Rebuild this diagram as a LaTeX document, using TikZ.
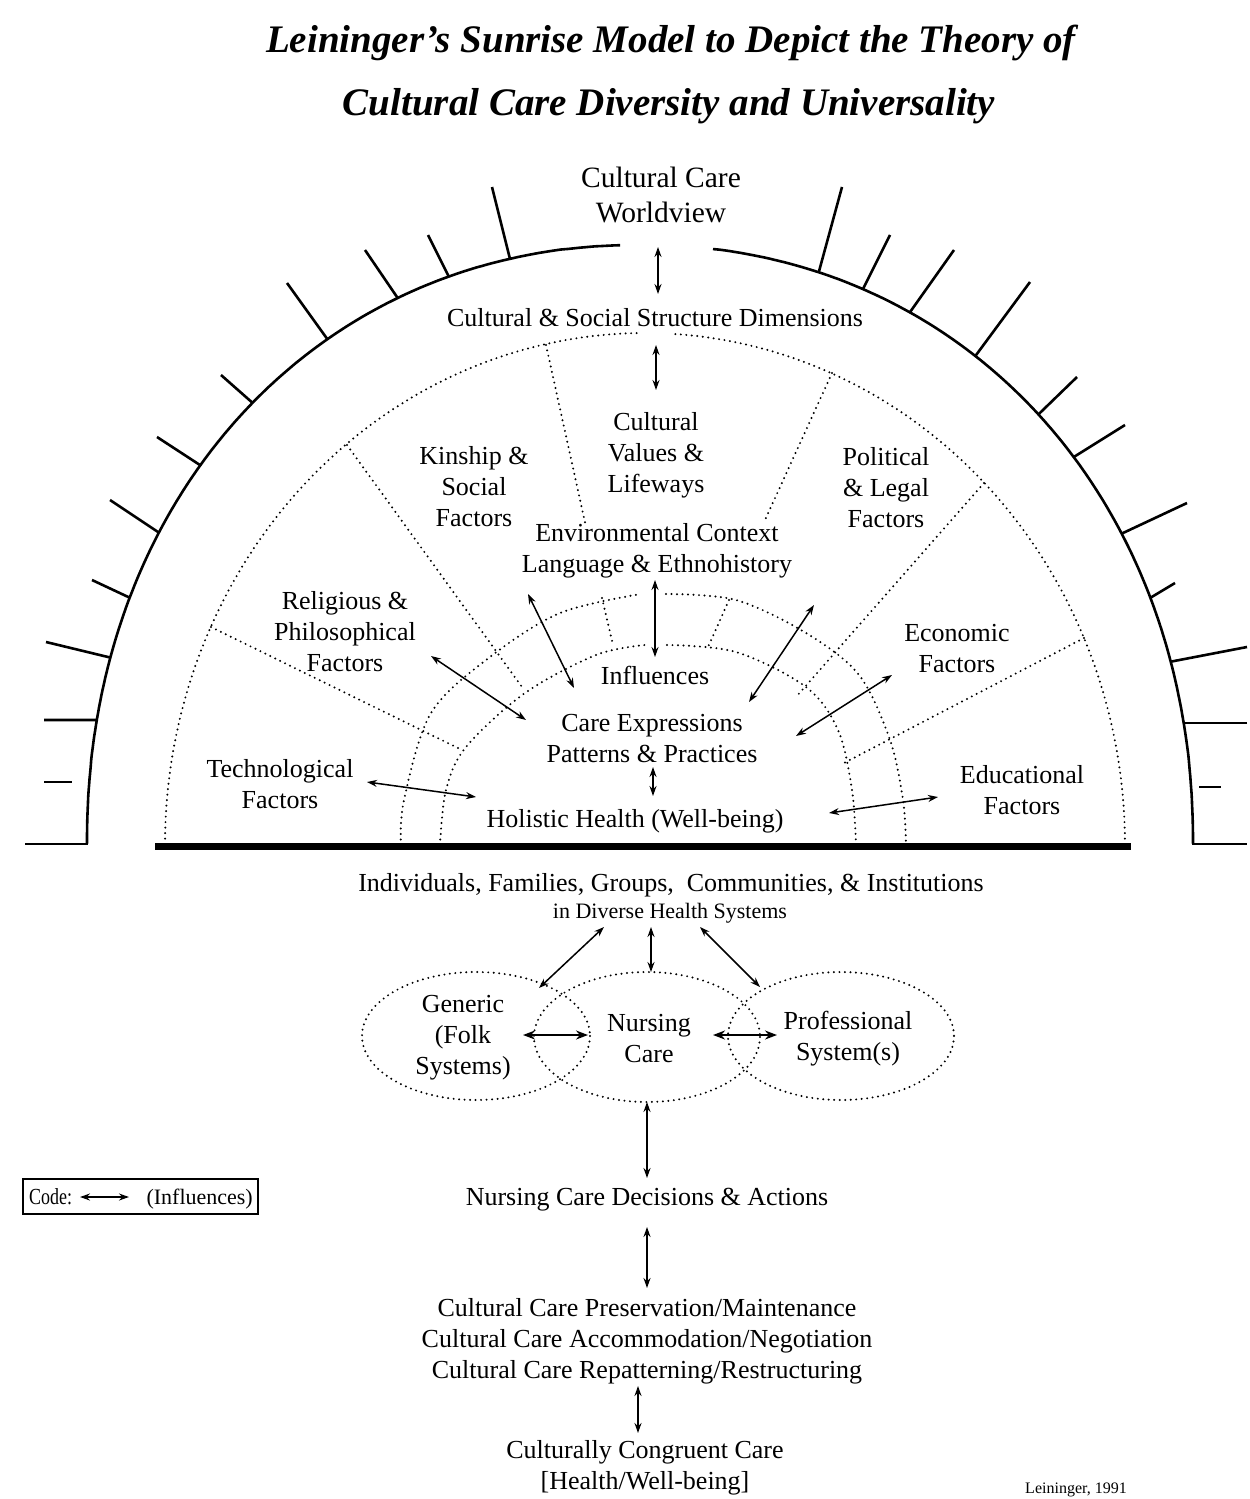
\documentclass[tikz,border=0pt]{standalone}
\usepackage{fontspec}
\setmainfont{Liberation Serif}
\newfontfamily\condserif[FakeStretch=0.78]{Liberation Serif}
\usetikzlibrary{arrows.meta,calc,intersections}

\tikzset{
  txt/.style={font=\fontsize{26}{31}\selectfont, align=center, inner sep=0pt},
  bigtxt/.style={font=\fontsize{29.5}{35}\selectfont, align=center, inner sep=0pt},
  ttl/.style={font=\fontsize{39}{46}\selectfont\bfseries\itshape, inner sep=0pt},
  smalltxt/.style={font=\fontsize{22}{26}\selectfont, inner sep=0pt},
  citetxt/.style={font=\fontsize{16}{19}\selectfont, inner sep=0pt},
  infl/.style={{Stealth[length=10pt,width=7pt]}-{Stealth[length=10pt,width=7pt]}, line width=1.5pt},
  inflbig/.style={{Stealth[length=12pt,width=9pt]}-{Stealth[length=12pt,width=9pt]}, line width=2pt},
  dots/.style={line width=2.2pt, line cap=round, dash pattern=on 0pt off 5.5pt},
  sunarc/.style={line width=2.6pt},
  sunray/.style={line width=2.6pt},
  baseline bar/.style={line width=7pt},
  codebox/.style={draw, line width=2pt, inner sep=0pt},
}

% ray from an outer point towards a guessed inner point, cut at the sun arc
\newcommand\rayto[4]{%
  \path[name path=#1] #2 -- ($#2!1.7!#3$);
  \draw[sunray, name intersections={of=#4 and #1, by=#1x}] #2 -- (#1x);}

\begin{document}
\begin{tikzpicture}[x=1pt,y=-1pt]
\useasboundingbox (0,0) rectangle (1250,1499);
\fill[white] (0,0) rectangle (1250,1499);

% ---------- title ----------
\node[ttl] (title1) at (671,43) {Leininger’s Sunrise Model to Depict the Theory of};
\node[ttl] (title2) at (669,106) {Cultural Care Diversity and Universality};

% ---------- outer sun arc (slightly squared ellipse) ----------
\draw[sunarc, name path=sunL] plot[domain=91.75:179.9, samples=160, variable=\t]
  ({640-553*pow(abs(cos(\t)),0.952)},{845-600*pow(abs(sin(\t)),0.952)});
\draw[sunarc, name path=sunR] plot[domain=0.1:83.15, samples=160, variable=\t]
  ({640+553*pow(abs(cos(\t)),0.952)},{845-600*pow(abs(sin(\t)),0.952)});

% rays, left
\rayto{la}{(492,187)}{(508,251)}{sunL}
\rayto{lb}{(428,235)}{(444,267)}{sunL}
\rayto{lc}{(365,250)}{(397,297)}{sunL}
\rayto{ld}{(287,283)}{(333,347)}{sunL}
\rayto{le}{(221,375)}{(255,405)}{sunL}
\rayto{lf}{(157,437)}{(203,467)}{sunL}
\rayto{lg}{(110,500)}{(155,530)}{sunL}
\rayto{lh}{(92,580)}{(124,595)}{sunL}
\rayto{li}{(46,642)}{(108,657)}{sunL}
\rayto{lj}{(44,720)}{(97,720)}{sunL}
\draw[sunray] (44,782) -- (72,782);
\draw[sunray] (25,844) -- (88,844);
% rays, right
\rayto{ra}{(842,187)}{(824,253)}{sunR}
\rayto{rb}{(890,235)}{(874,267)}{sunR}
\rayto{rc}{(954,250)}{(920,298)}{sunR}
\rayto{rd}{(1030,282)}{(982,347)}{sunR}
\rayto{re}{(1077,377)}{(1045,408)}{sunR}
\rayto{rf}{(1125,425)}{(1077,455)}{sunR}
\rayto{rg}{(1187,503)}{(1123,533)}{sunR}
\rayto{rh}{(1175,583)}{(1155,595)}{sunR}
\rayto{ri}{(1247,647)}{(1169,662)}{sunR}
\rayto{rj}{(1247,723)}{(1180,723)}{sunR}
\draw[sunray] (1199,787) -- (1221,787);
\draw[sunray] (1192,844) -- (1247,844);

% ---------- dotted arcs ----------
\draw[dots] plot[domain=91:179.9, samples=120, variable=\t] ({645+480*cos(\t)},{845-512*sin(\t)});
\draw[dots] plot[domain=0.1:86.7, samples=120, variable=\t] ({645+480*cos(\t)},{845-512*sin(\t)});

\draw[dots] plot[smooth, tension=0.55] coordinates {(401,845) (404,800) (431,713) (490,657) (560,613) (641,594)};
\draw[dots] plot[smooth, tension=0.55] coordinates {(666,594) (736,600) (806,633) (859,675) (890,740) (903,800) (906,845)};

\draw[dots] plot[smooth, tension=0.55] coordinates {(440,845) (446,790) (466,747) (525,693) (596,655) (645,645)};
\draw[dots] plot[smooth, tension=0.55] coordinates {(667,645) (736,652) (806,687) (838,730) (852,790) (856,845)};

% radial dotted lines
\draw[dots] (347,445) -- (522,687);
\draw[dots] (546,345) -- (586,527);
\draw[dots] (602,598) -- (613,645);
\draw[dots] (832,373) -- (765,520);
\draw[dots] (729,600) -- (708,647);
\draw[dots] (984,483) -- (796,697);
\draw[dots] (1084,638) -- (844,763);
\draw[dots] (211,627) -- (462,750);

% base bar
\coordinate (barL) at (155,846);
\coordinate (barR) at (1131,846);
\draw[baseline bar] (barL) -- (barR);

% ---------- labels ----------
\node[bigtxt] (worldview) at (661,195) {Cultural Care\\Worldview};
\node[txt] (csd) at (655,318) {Cultural \& Social Structure Dimensions};
\node[txt] (values) at (656,455) {Cultural\\Values \&\\Lifeways};
\node[txt] (kinship) at (474,487) {Kinship \&\\Social\\Factors};
\node[txt] (political) at (886,488) {Political\\\& Legal\\Factors};
\node[txt] (env) at (657,551) {Environmental Context\\Language \& Ethnohistory};
\node[txt] (religious) at (345,632) {Religious \&\\Philosophical\\Factors};
\node[txt] (economic) at (957,649) {Economic\\Factors};
\node[txt] (influences) at (655,675) {Influences};
\node[txt] (careexp) at (652,739) {Care Expressions\\Patterns \& Practices};
\node[txt] (techno) at (280,784) {Technological\\Factors};
\node[txt] (educ) at (1022,790) {Educational\\Factors};
\node[txt] (holistic) at (635,821) {Holistic Health (Well-being)};
\node[txt] (indiv) at (671,885) {Individuals, Families, Groups, \ Communities, \& Institutions};
\node[smalltxt] (diverse) at (670,913) {in Diverse Health Systems};
\node[txt] (generic) at (463,1038) {Generic\\(Folk\\Systems)};
\node[txt] (nursing) at (649,1039) {Nursing\\Care};
\node[txt] (prof) at (848,1039) {Professional\\System(s)};
\node[txt] (decisions) at (647,1200) {Nursing Care Decisions \& Actions};
\node[txt] (modes) at (647,1341) {Cultural Care Preservation/Maintenance\\Cultural Care Accommodation/Negotiation\\Cultural Care Repatterning/Restructuring};
\node[txt] (congruent) at (645,1468) {Culturally Congruent Care\\{[Health/Well-being]}};
\node[citetxt] (cite) at (1076,1490) {Leininger, 1991};

% bottom ellipses
\draw[dots] (476,1036) ellipse [x radius=114, y radius=64];
\draw[dots] (647,1037) ellipse [x radius=113, y radius=65];
\draw[dots] (841,1036) ellipse [x radius=113, y radius=64];

% ---------- influence arrows ----------
\coordinate (w1) at (658,247); \coordinate (w2) at (658,294);
\draw[infl] (w1) -- (w2);
\coordinate (c1) at (656,345); \coordinate (c2) at (656,390);
\draw[infl] (c1) -- (c2);
\coordinate (rel1) at (431,656); \coordinate (rel2) at (526,720);
\draw[infl] (rel1) -- (rel2);
\coordinate (kin1) at (528,594); \coordinate (kin2) at (574,688);
\draw[infl] (kin1) -- (kin2);
\coordinate (lang1) at (655,580); \coordinate (lang2) at (655,657);
\draw[infl] (lang1) -- (lang2);
\coordinate (pol1) at (814,605); \coordinate (pol2) at (749,702);
\draw[infl] (pol1) -- (pol2);
\coordinate (eco1) at (892,675); \coordinate (eco2) at (796,736);
\draw[infl] (eco1) -- (eco2);
\coordinate (pat1) at (653,767); \coordinate (pat2) at (653,796);
\draw[infl] (pat1) -- (pat2);
\coordinate (tec1) at (367,782); \coordinate (tec2) at (476,797);
\draw[infl] (tec1) -- (tec2);
\coordinate (edu1) at (938,797); \coordinate (edu2) at (829,813);
\draw[infl] (edu1) -- (edu2);

\coordinate (dv1) at (604,927); \coordinate (dv2) at (539,988);
\draw[infl] (dv1) -- (dv2);
\coordinate (dm1) at (651,927); \coordinate (dm2) at (651,972);
\draw[infl] (dm1) -- (dm2);
\coordinate (dr1) at (700,927); \coordinate (dr2) at (760,987);
\draw[infl] (dr1) -- (dr2);

\coordinate (gn1) at (523,1035); \coordinate (gn2) at (588,1035);
\draw[inflbig] (gn1) -- (gn2);
\coordinate (np1) at (713,1035); \coordinate (np2) at (777,1035);
\draw[inflbig] (np1) -- (np2);

\coordinate (nd1) at (647,1102); \coordinate (nd2) at (647,1178);
\draw[infl] (nd1) -- (nd2);
\coordinate (dm3) at (647,1227); \coordinate (dm4) at (647,1288);
\draw[infl] (dm3) -- (dm4);
\coordinate (mc1) at (638,1386); \coordinate (mc2) at (638,1433);
\draw[infl] (mc1) -- (mc2);

% ---------- code box ----------
\node[codebox, minimum width=235pt, minimum height=35pt] (box) at (140.5,1196) {};
\node[smalltxt, font=\condserif\fontsize{23}{26}\selectfont, anchor=base west] (code) at (29,1204) {Code:};
\coordinate (codeA) at (80,1197); \coordinate (codeB) at (129,1197);
\draw[infl] (codeA) -- (codeB);
\node[smalltxt, anchor=base east] (codeinf) at (253,1204) {(Influences)};
\end{tikzpicture}
\end{document}
